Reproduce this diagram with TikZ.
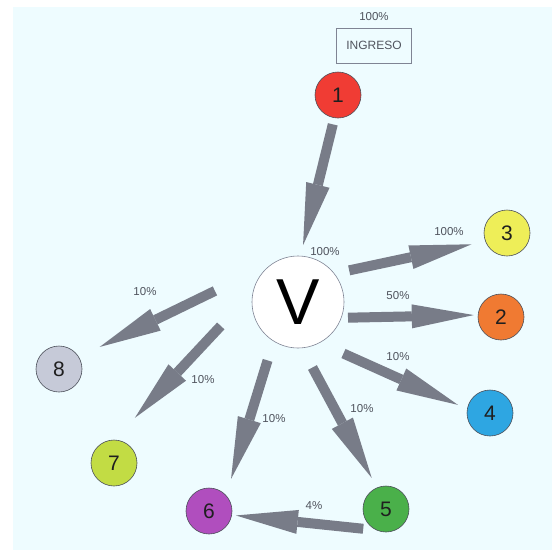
\documentclass[tikz,border=0pt]{standalone}
\usepackage{fontspec}
\setmainfont{Liberation Sans}
\usetikzlibrary{arrows.meta}
\definecolor{bgsky}{HTML}{EEFCFF}
\definecolor{flowgray}{HTML}{787C88}
\definecolor{txtgray}{HTML}{50545E}
\definecolor{rim}{HTML}{4A4E58}
\definecolor{boxrim}{HTML}{7F8494}
\definecolor{cRed}{HTML}{F03C34}
\definecolor{cOrange}{HTML}{F07A32}
\definecolor{cYellow}{HTML}{EEEE58}
\definecolor{cBlue}{HTML}{2EA6E2}
\definecolor{cGreen}{HTML}{4AB04A}
\definecolor{cPurple}{HTML}{B04EBE}
\definecolor{cLime}{HTML}{C2DC44}
\definecolor{cSilver}{HTML}{C6CAD8}
\tikzset{
  stage/.style ={circle, draw=rim, line width=0.6pt, minimum size=46pt,
                 inner sep=0pt, font=\fontsize{21}{24}\selectfont, text=black!88},
  hub/.style   ={circle, draw=boxrim, fill=white, line width=0.6pt,
                 minimum size=92pt, inner sep=0pt, font=\fontsize{65}{70}\selectfont},
  entry/.style ={draw=boxrim, line width=0.6pt, minimum width=75pt,
                 minimum height=35pt, font=\fontsize{12}{14}\selectfont, text=txtgray},
  flow/.style  ={draw=flowgray, line width=10pt,
                 -{Triangle[length=62pt, width=24pt, line width=0pt]}},
  tag/.style   ={font=\fontsize{11.5}{13}\selectfont, text=txtgray, inner sep=1pt},
}
\begin{document}
\begin{tikzpicture}[x=1pt, y=-1pt]
  \useasboundingbox (0,0) rectangle (552,550);
  \fill[white] (0,0) rectangle (552,550);
  \fill[bgsky] (13,7) rectangle (552,550);
  % entry
  \node[tag] (inpct) at (374,17) {100\%};
  \node[entry] (ing) at (374,45.5) {INGRESO};
  % stages
  \node[stage, fill=cRed]    (n1) at (338,95)  {1};
  \node[stage, fill=cOrange] (n2) at (501,317) {2};
  \node[stage, fill=cYellow] (n3) at (507,233) {3};
  \node[stage, fill=cBlue]   (n4) at (490,413) {4};
  \node[stage, fill=cGreen]  (n5) at (386,509) {5};
  \node[stage, fill=cPurple] (n6) at (209,511) {6};
  \node[stage, fill=cLime]   (n7) at (114,463) {7};
  \node[stage, fill=cSilver] (n8) at (59,369)  {8};
  \node[hub] (V) at (298,302) {V};
  % flows
  \draw[flow, shorten <=6.5pt, shorten >=11pt] (n1.261) -- (V.87);
  \draw[flow, shorten <=15pt, shorten >=14pt] (V.38) -- (n3.201);
  \draw[flow, shorten <=6.5pt, shorten >=4pt] (V.340) -- (n2.175);
  \draw[flow, shorten <=26pt, shorten >=10pt] (V.298) -- (n4.170);
  \draw[flow, shorten <=22pt, shorten >=11pt] (V.275) -- (n5.113);
  \draw[flow, shorten <=20pt, shorten >=17pt] (V.238) -- (n6.43);
  \draw[flow, shorten <=13pt, shorten >=4pt] (n5.245) -- (n6.350);
  \draw[flow, shorten <=47pt, shorten >=30pt] (V.167) -- (n7.89);
  \draw[flow, shorten <=69pt, shorten >=23pt] (V.117) -- (n8.31);
  % shares
  \node[tag] (p1) at (325,252) {100\%};
  \node[tag] (p3) at (449,232) {100\%};
  \node[tag] (p2) at (398,296) {50\%};
  \node[tag] (p4) at (398,357) {10\%};
  \node[tag] (p5) at (362,409) {10\%};
  \node[tag] (p6) at (274,419) {10\%};
  \node[tag] (p7) at (203,380) {10\%};
  \node[tag] (p8) at (145,292) {10\%};
  \node[tag] (p56) at (314,506) {4\%};
\end{tikzpicture}
\end{document}
